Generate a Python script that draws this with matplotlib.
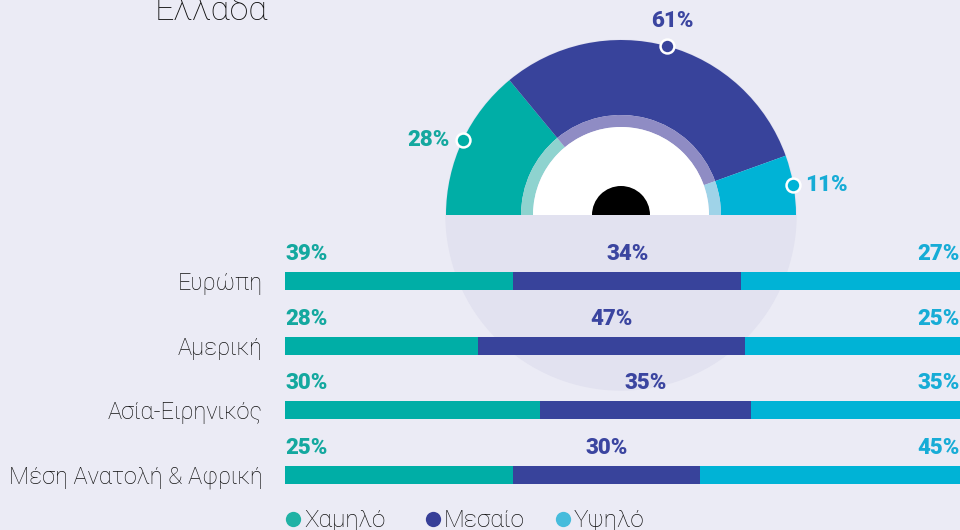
import matplotlib
matplotlib.use("Agg")
import matplotlib.pyplot as plt
from matplotlib.patches import Wedge, Circle
import numpy as np

# ------------------------------------------------------------
# data
# ------------------------------------------------------------
title = "Ελλάδα"
levels = ["Χαμηλό", "Μεσαίο", "Υψηλό"]

# Greece gauge
greece_values = [28, 61, 11]

# regions (labels shown above the bars)
regions = ["Ευρώπη", "Αμερική", "Ασία-Ειρηνικός", "Μέση Ανατολή & Αφρική"]
low_pct = [39, 28, 30, 25]
mid_pct = [34, 47, 35, 30]
high_pct = [27, 25, 35, 45]

# segment lengths as drawn in the bars (share of bar length, %)
low_len = [33.8, 28.6, 37.8, 33.8]
mid_len = [33.8, 39.6, 31.3, 27.7]
high_len = [32.4, 31.8, 30.9, 38.5]

# ------------------------------------------------------------
# style
# ------------------------------------------------------------
BG = "#ebebf5"
DISC = "#e2e2f0"
COLORS = ["#00aea6", "#38439b", "#00b3d6"]
LIGHT = ["#8ed3cf", "#8f8cc4", "#9fd3e8"]
TEXT_COLORS = ["#14a89f", "#3b45a0", "#17acd6"]
LEGEND_COLORS = ["#20b2a5", "#373f98", "#46bcdc"]
FONT = ["Roboto", "DejaVu Sans"]
PCT_SIZE = 16
PCT_WEIGHT = "black"

plt.rcParams["font.family"] = FONT

W, H = 960, 530
fig = plt.figure(figsize=(W / 100, H / 100), dpi=100, facecolor=BG)

# pixel-space axes for gauge, title and legend
ax = fig.add_axes([0, 0, 1, 1])
ax.set_xlim(0, W)
ax.set_ylim(0, H)
ax.axis("off")
ax.set_facecolor(BG)


def py(y_px):
    """top-based pixel row -> axes y"""
    return H - y_px


# ------------------------------------------------------------
# gauge
# ------------------------------------------------------------
cx, cy = 621, py(215)
r_out, r_ring, r_white, r_dot = 175, 100, 88, 29

ax.add_patch(Circle((cx, cy), r_out, color=DISC, zorder=0))

angles = 180 - np.cumsum([0] + greece_values) * 180 / sum(greece_values)
for i, v in enumerate(greece_values):
    a1, a2 = angles[i + 1], angles[i]
    ax.add_patch(Wedge((cx, cy), r_out, a1, a2, width=r_out - r_ring,
                       color=COLORS[i], lw=0, zorder=2))
    ax.add_patch(Wedge((cx, cy), r_ring, a1, a2, width=r_ring - r_white,
                       color=LIGHT[i], lw=0, zorder=2))
    mid = np.deg2rad((a1 + a2) / 2)
    mx, my = cx + r_out * np.cos(mid), cy + r_out * np.sin(mid)
    ax.plot(mx, my, "o", ms=10, color=COLORS[i], mec="white", mew=1.8,
            zorder=4)
    c = np.cos(mid)
    kw = dict(color=TEXT_COLORS[i], fontsize=PCT_SIZE, fontweight=PCT_WEIGHT)
    if c < -0.3:
        ax.text(mx - 13, my, f"{v}%", ha="right", va="center", **kw)
    elif c > 0.3:
        ax.text(mx + 12, my, f"{v}%", ha="left", va="center", **kw)
    else:
        ax.text(mx + 5, my + 14, f"{v}%", ha="center", va="bottom", **kw)

ax.add_patch(Wedge((cx, cy), r_white, 0, 180, color="white", lw=0, zorder=2))
ax.add_patch(Wedge((cx, cy), r_dot, 0, 180, color="black", lw=0, zorder=3))

# title
ax.text(155, py(20.5), title, ha="left", va="baseline", fontsize=24.5,
        fontweight="light", color="#111111")

# legend
leg_x = [293, 433, 563]
for i, name in enumerate(levels):
    ax.plot(leg_x[i], py(519), "o", ms=11, color=LEGEND_COLORS[i], mew=0)
    ax.text(leg_x[i] + 11, py(527), name, ha="left", va="baseline",
            fontsize=17.5, fontweight="light", color="#111111")

# ------------------------------------------------------------
# stacked bars
# ------------------------------------------------------------
step = 64.7
top = 281 - step / 2
bax = fig.add_axes([285 / W, py(top + 4 * step) / H, 675 / W, 4 * step / H])
bax.set_xlim(0, 100)
bax.set_ylim(3.5, -0.5)
bax.patch.set_alpha(0)
for s in bax.spines.values():
    s.set_visible(False)
bax.set_xticks([])

y = np.arange(len(regions))
bar_h = 18 / step
left = np.zeros(len(regions))
for i, lens in enumerate([low_len, mid_len, high_len]):
    bax.barh(y, lens, left=left, height=bar_h, color=COLORS[i], lw=0)
    left = left + np.array(lens)

bax.set_yticks(y)
bax.set_yticklabels(regions, fontsize=17, fontweight="light", color="#111111")
bax.tick_params(axis="y", length=0, pad=16)
for lab in bax.get_yticklabels():
    lab.set_va("center_baseline")

for j in range(len(regions)):
    kw = dict(textcoords="offset pixels", va="center", fontsize=PCT_SIZE,
              fontweight=PCT_WEIGHT, annotation_clip=False)
    bax.annotate(f"{low_pct[j]}%", (0, y[j]), xytext=(0, 27),
                 ha="left", color=TEXT_COLORS[0], **kw)
    bax.annotate(f"{mid_pct[j]}%", (low_len[j] + mid_len[j] / 2, y[j]),
                 xytext=(0, 27), ha="center", color=TEXT_COLORS[1], **kw)
    bax.annotate(f"{high_pct[j]}%", (100, y[j]), xytext=(0, 27),
                 ha="right", color=TEXT_COLORS[2], **kw)

fig.savefig("out.png", dpi=100, facecolor=BG)
